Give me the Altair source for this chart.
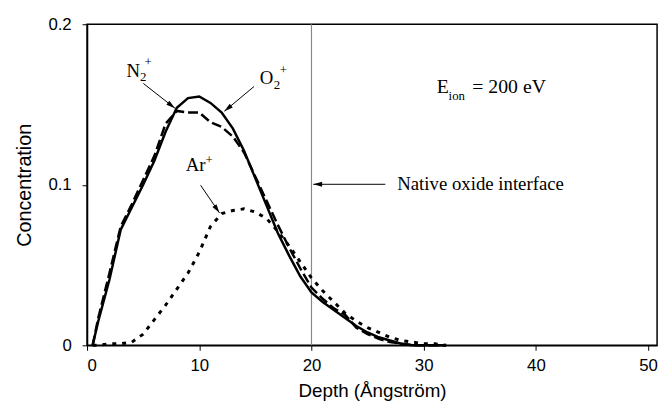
import math
import altair as alt
import pandas as pd

# ---------------- data ----------------
depth = [0.5] + list(range(1, 33))
o2_plus = [0, 0.015, 0.041, 0.072, 0.086, 0.100, 0.115, 0.133, 0.148, 0.154,
           0.155, 0.151, 0.145, 0.135, 0.121, 0.104, 0.087, 0.070, 0.056, 0.043,
           0.033, 0.027, 0.022, 0.017, 0.012, 0.008, 0.005, 0.003, 0.001, 0,
           0, 0, 0]
n2_plus = [0, 0.017, 0.045, 0.074, 0.088, 0.103, 0.118, 0.138, 0.146, 0.145,
           0.145, 0.139, 0.136, 0.130, 0.120, 0.105, 0.090, 0.075, 0.061, 0.048,
           0.036, 0.029, 0.023, 0.019, 0.011, 0.007, 0.004, 0.002, 0.001, 0,
           0, 0, 0]
ar_plus = [0, 0, 0.001, 0.001, 0.002, 0.007, 0.016, 0.025, 0.035, 0.045,
           0.058, 0.074, 0.082, 0.084, 0.085, 0.083, 0.079, 0.071, 0.062, 0.052,
           0.042, 0.034, 0.027, 0.020, 0.015, 0.011, 0.008, 0.005, 0.003, 0.002,
           0.001, 0.001, 0]

x_ticks = [0, 10, 20, 30, 40, 50]
y_ticks = [0, 0.1, 0.2]
interface_depth = 20

# annotation arrows: (x_start, y_start, x_tip, y_tip)
arrow_x1 = [5.02, 14.88, 10.12, 26.58]
arrow_y1 = [0.1631, 0.1612, 0.0997, 0.1003]
arrow_x2 = [7.83, 12.24, 11.80, 20.16]
arrow_y2 = [0.1477, 0.1458, 0.0825, 0.1003]

# text pieces: text, x, y, font size
txt = ["N", "2", "+", "O", "2", "+", "Ar", "+", "E", "ion", "= 200 eV",
       "Native oxide interface"]
txt_x = [3.52, 4.71, 5.11, 15.4, 16.64, 17.17, 8.8, 10.56, 31.16, 32.22, 34.33, 27.64]
txt_y = [0.1674, 0.1645, 0.1740, 0.1625, 0.1595, 0.1690, 0.1083, 0.1130,
         0.1569, 0.1525, 0.1569, 0.0966]
txt_size = [19, 13, 13, 19, 13, 13, 19, 13, 20, 13, 20, 19]

# ---------------- layout ----------------
W, H = 577, 325
XMAX, YMAX = 50.8, 0.2
PX_X = W / XMAX
PX_Y = H / YMAX

curves = pd.DataFrame({
    "x": depth * 3,
    "y": o2_plus + n2_plus + ar_plus,
    "s": ["O2+"] * len(depth) + ["N2+"] * len(depth) + ["Ar+"] * len(depth),
})

angles = []
for a, b, c, d in zip(arrow_x1, arrow_y1, arrow_x2, arrow_y2):
    dxp = (c - a) * PX_X
    dyp = -(d - b) * PX_Y
    angles.append(math.degrees(math.atan2(dxp, -dyp)) % 360)

arrows = pd.DataFrame({"x": arrow_x1, "y": arrow_y1, "x2": arrow_x2,
                       "y2": arrow_y2, "angle": angles})
heads = pd.DataFrame({"x": arrow_x2, "y": arrow_y2, "angle": angles})
texts = pd.DataFrame({"x": txt_x, "y": txt_y, "t": txt, "fs": txt_size})
vline = pd.DataFrame({"x": [interface_depth], "y": [0], "y2": [YMAX]})

xaxis = alt.Axis(values=x_ticks, title="Depth (Ångström)", grid=False,
                 tickSize=5, labelPadding=7, labelFontSize=17, titleFontSize=19,
                 labelFont="Liberation Sans", titleFont="Liberation Sans",
                 titleFontWeight="normal", domainColor="black", tickColor="black",
                 labelColor="black", titleColor="black", domainWidth=1.5,
                 titleY=46, titleBaseline="middle")
yaxis = alt.Axis(values=y_ticks, format="~g", title="Concentration", grid=False,
                 tickSize=5, labelPadding=11, labelFontSize=17, titleFontSize=20,
                 labelFont="Liberation Sans", titleFont="Liberation Sans",
                 titleFontWeight="normal", domainColor="black", tickColor="black",
                 labelColor="black", titleColor="black", domainWidth=1.5,
                 titleX=-63, titleY=H / 2, titleBaseline="middle")


def X():
    return alt.X("x:Q", scale=alt.Scale(domain=[0, XMAX], nice=False, zero=False),
                 axis=xaxis)


def Y():
    return alt.Y("y:Q", scale=alt.Scale(domain=[0, YMAX], nice=False), axis=yaxis)


base = alt.Chart(curves)
o2_line = base.transform_filter(alt.datum.s == "O2+").mark_line(
    color="black", strokeWidth=2.5).encode(x=X(), y=Y())
n2_line = base.transform_filter(alt.datum.s == "N2+").mark_line(
    color="black", strokeWidth=2.5, strokeDash=[10, 4]).encode(x=X(), y=Y())
ar_line = base.transform_filter(alt.datum.s == "Ar+").mark_line(
    color="black", strokeWidth=3, strokeDash=[4, 6]).encode(x=X(), y=Y())

vrule = alt.Chart(vline).mark_rule(color="#8a8a8a", strokeWidth=1.2).encode(
    x=X(), y=Y(), y2="y2:Q")

arrow_lines = alt.Chart(arrows).mark_rule(color="black", strokeWidth=1).encode(
    x=X(), y=Y(), x2="x2:Q", y2="y2:Q")
arrow_heads = alt.Chart(heads).mark_point(
    shape="M0,0L0.55,2L-0.55,2Z", filled=True, color="black", size=81,
    opacity=1, strokeWidth=0).encode(
    x=X(), y=Y(), angle=alt.Angle("angle:Q", scale=None))

labels = alt.Chart(texts).mark_text(
    font="Liberation Serif", align="left", baseline="alphabetic",
    color="black").encode(
    x=X(), y=Y(), text="t:N", size=alt.Size("fs:Q", scale=None))

chart = alt.layer(
    vrule, ar_line, n2_line, o2_line, arrow_lines, arrow_heads, labels
).properties(
    width=W, height=H,
    autosize=alt.AutoSizeParams(type="none"),
    padding={"left": 80, "top": 14, "right": 7, "bottom": 60},
).configure_view(stroke="black", strokeWidth=1.5)

chart.save("out.html", embed_options={"renderer": "svg", "actions": False})
